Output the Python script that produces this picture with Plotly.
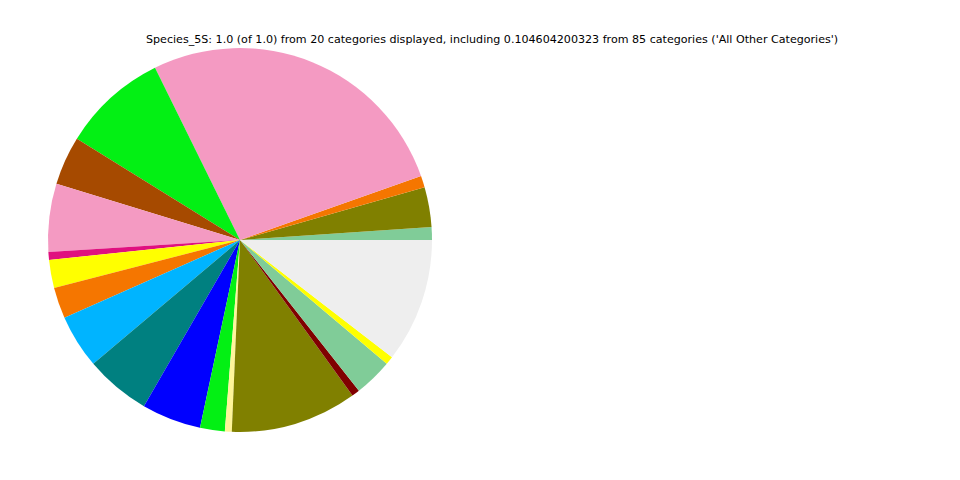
import plotly.graph_objects as go

categories = [f"Category {i}" for i in range(1, 20)] + ["All Other Categories"]
values = [0.0108, 0.0336, 0.0097, 0.2689, 0.0886, 0.0411, 0.0572, 0.0067, 0.0236, 0.0261,
          0.0453, 0.0550, 0.0500, 0.0208, 0.0058, 0.1064, 0.0067, 0.0322, 0.0069, 0.1046]
colors = ["#80CC98", "#808000", "#F57600", "#F49AC2", "#03F014", "#A64A00", "#F49AC2", "#E0107F",
          "#FFFF00", "#F57600", "#00B4FF", "#008080", "#0000FF", "#03F014", "#FFF59A", "#808000",
          "#800000", "#80CC98", "#FFFF00", "#EEEEEE"]

title = ("Species_5S: 1.0 (of 1.0) from 20 categories displayed, including 0.104604200323 "
         "from 85 categories ('All Other Categories')")

W, H = 960, 480
off = 8  # browser body margin
cx, cy, r = 240 - off, 240 - off, 192
first_angle = values[0] / sum(values) * 360

fig = go.Figure(go.Pie(
    labels=categories, values=values,
    marker=dict(colors=colors, line=dict(width=0)),
    sort=False, direction="counterclockwise", rotation=90 - first_angle,
    textinfo="none", showlegend=False,
    domain=dict(x=[(cx - r) / W, (cx + r) / W], y=[(H - cy - r) / H, (H - cy + r) / H]),
))
fig.update_layout(
    width=W, height=H,
    margin=dict(l=0, r=0, t=0, b=0),
    paper_bgcolor="white", plot_bgcolor="white",
    annotations=[dict(text=title, x=(492 - off) / W, y=1 - (40 - off) / H, xref="paper", yref="paper",
                      showarrow=False, xanchor="center", yanchor="middle",
                      font=dict(family="DejaVu Sans", size=11.1, color="black"))],
)
fig.write_html("out.html")
